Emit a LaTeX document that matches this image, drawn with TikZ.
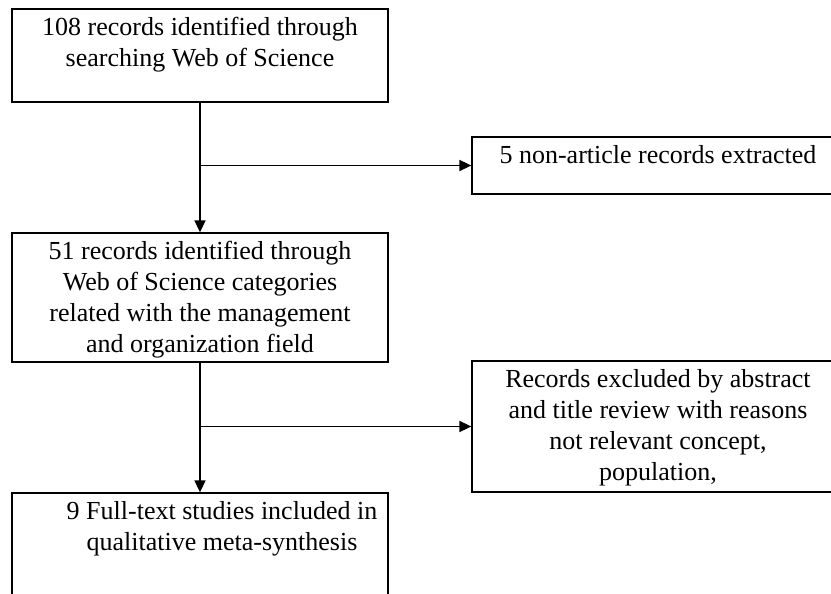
\documentclass[tikz,border=0pt]{standalone}
\usepackage{fontspec}
\setmainfont{Liberation Serif}
\usetikzlibrary{arrows.meta,positioning}

\newcommand{\stagetext}[3]{\parbox[c][#2][t]{#1}{\centering\vspace*{8pt}#3}}

\begin{document}
\begin{tikzpicture}[x=1pt,y=-1pt]
\useasboundingbox (0,0) rectangle (831,594);
\clip (0,0) rectangle (831,594);

\begin{scope}[every node/.style={draw,line width=1.3pt,inner sep=0pt,
              font=\fontsize{26}{31}\selectfont}]
    \node[minimum width=376pt,minimum height=93pt] (search) at (200,55.5)
        {\stagetext{376pt}{93pt}{108 records identified through\\searching Web of Science}};
    \node[minimum width=372pt,minimum height=57pt] (nonart) at (658,165.5)
        {\stagetext{372pt}{57pt}{5 non-article records extracted}};
    \node[minimum width=376pt,minimum height=129pt] (categories) at (200,297.5)
        {\stagetext{376pt}{129pt}{51 records identified through\\Web of Science categories\\related with the management\\and organization field}};
    \node[minimum width=372pt,minimum height=131pt] (excluded) at (658,426.5)
        {\stagetext{372pt}{131pt}{Records excluded by abstract\\and title review with reasons\\not relevant concept,\\population,}};
    \node[minimum width=376pt,minimum height=127pt] (included) at (200,556.5)
        {\stagetext{376pt}{127pt}{\hspace*{44pt}9 Full-text studies included in\\\hspace*{44pt}qualitative meta-synthesis}};
\end{scope}

\coordinate (split1) at (search.south |- nonart.west);
\coordinate (split2) at (categories.south |- excluded.west);

\begin{scope}[line width=1.6pt,>={Triangle[length=12pt,width=11pt]},
              every edge/.style={draw}]
    \path [->] (search) edge (categories);
    \path [->] (split1) edge (nonart);
    \path [->] (categories) edge (included);
    \path [->] (split2) edge (excluded);
\end{scope}
\end{tikzpicture}
\end{document}
